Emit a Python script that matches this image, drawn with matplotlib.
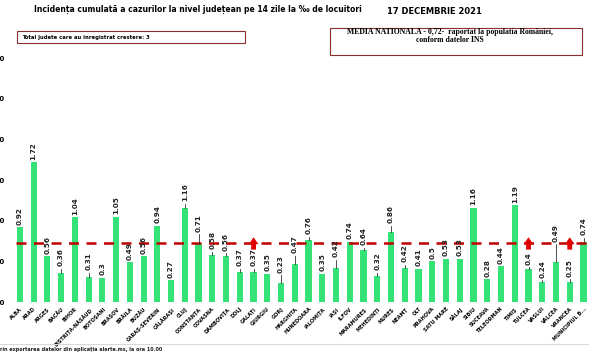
import matplotlib.pyplot as plt

judete = ['ALBA', 'ARAD', 'ARGEȘ', 'BACĂU', 'BIHOR', 'BISTRIȚA-NĂSĂUD', 'BOTOȘANI',
          'BRAȘOV', 'BRĂILA', 'BUZĂU', 'CARAȘ-SEVERIN', 'CĂLĂRAȘI', 'CLUJ', 'CONSTANȚA',
          'COVASNA', 'DÂMBOVIȚA', 'DOLJ', 'GALAȚI', 'GIURGIU', 'GORJ', 'HARGHITA',
          'HUNEDOARA', 'IALOMIȚA', 'IAȘI', 'ILFOV', 'MARAMUREȘ', 'MEHEDINȚI', 'MUREȘ',
          'NEAMȚ', 'OLT', 'PRAHOVA', 'SATU MARE', 'SĂLAJ', 'SIBIU', 'SUCEAVA',
          'TELEORMAN', 'TIMIȘ', 'TULCEA', 'VASLUI', 'VÂLCEA', 'VRANCEA', 'MUNICIPIUL B...']
incidenta = [0.92, 1.72, 0.56, 0.36, 1.04, 0.31, 0.3, 1.05, 0.49, 0.56, 0.94, 0.27,
             1.16, 0.71, 0.58, 0.56, 0.37, 0.37, 0.35, 0.23, 0.47, 0.76, 0.35, 0.42,
             0.74, 0.64, 0.32, 0.86, 0.42, 0.41, 0.5, 0.53, 0.53, 1.16, 0.28, 0.44,
             1.19, 0.4, 0.24, 0.49, 0.25, 0.74]
media_nationala = 0.72
judete_crestere = ['GALAȚI', 'TULCEA', 'VRANCEA']

# length of the small leader line under some value labels (data units)
leader = {'BACĂU': 0.05, 'BISTRIȚA-NĂSĂUD': 0.05, 'CLUJ': 0.05, 'CONSTANȚA': 0.12,
          'COVASNA': 0.04, 'DÂMBOVIȚA': 0.04, 'DOLJ': 0.04, 'GALAȚI': 0.04,
          'GORJ': 0.1, 'HARGHITA': 0.1, 'HUNEDOARA': 0.04, 'IAȘI': 0.1,
          'MARAMUREȘ': 0.03, 'MEHEDINȚI': 0.04, 'MUREȘ': 0.08, 'NEAMȚ': 0.04,
          'TULCEA': 0.03, 'VASLUI': 0.03, 'VÂLCEA': 0.22, 'VRANCEA': 0.03,
          'MUNICIPIUL B...': 0.05}

green = '#34E278'
dark_red = '#C00000'

fig = plt.figure(figsize=(5.89, 3.54), dpi=100)
ax = fig.add_axes([13 / 589, 52 / 354, 576 / 589, 244 / 354])

x = list(range(len(judete)))
ax.bar(x, incidenta, width=0.45, color=green, zorder=2)

ax.hlines(media_nationala, -0.25, len(judete) - 0.5, colors=dark_red,
          linestyles=(0, (4, 3)), lw=1.8, zorder=3)

for i, (name, v) in enumerate(zip(judete, incidenta)):
    off = leader.get(name, 0)
    if off:
        ax.plot([i, i], [v, v + off], color='#333333', lw=0.6, zorder=3)
    ax.text(i, v + off + 0.03, f'{v:g}', rotation=90, ha='center', va='bottom',
            fontsize=5.2, fontweight='bold', color='#222222', zorder=4)

for name in judete_crestere:
    i = judete.index(name)
    ax.annotate('', xy=(i, 0.83), xytext=(i, 0.61),
                arrowprops=dict(arrowstyle='simple,head_width=0.7,head_length=0.5,tail_width=0.35',
                                color='#E00000', lw=0), zorder=5)

ax.set_xlim(-0.5, len(judete) - 0.6)
ax.set_ylim(0, 3.0)
ax.set_yticks([0, 0.5, 1.0, 1.5, 2.0, 2.5, 3.0])
ax.set_yticklabels(['0,00', '0,50', '1,00', '1,50', '2,00', '2,50', '3,00'],
                   fontsize=5, fontweight='bold')
ax.tick_params(axis='y', length=0, pad=6)
ax.set_xticks(x)
ax.set_xticklabels(judete, rotation=45, ha='right', rotation_mode='anchor',
                   fontsize=3.6, fontweight='bold')
ax.tick_params(axis='x', length=0, pad=3)
for s in ax.spines.values():
    s.set_visible(False)

fig.text(198 / 589, 1 - 9 / 354, 'Incidența cumulată a cazurilor la nivel județean pe 14 zile la ‰ de locuitori',
         ha='center', va='center', fontsize=5.5, fontweight='bold')
fig.text(434 / 589, 1 - 12 / 354, '17 DECEMBRIE 2021', ha='center', va='center',
         fontsize=6.0, fontweight='bold')

fig.patches.append(plt.Rectangle((17 / 589, 1 - 43 / 354), 228 / 589, 12 / 354,
                                 transform=fig.transFigure, fill=False,
                                 edgecolor='#8B2E2E', lw=0.8))
fig.text(22 / 589, 1 - 37 / 354, 'Total judete care au inregistrat crestere: 3',
         ha='left', va='center', fontsize=3.8, fontweight='bold')

fig.patches.append(plt.Rectangle((330 / 589, 1 - 55 / 354), 252 / 589, 27 / 354,
                                 transform=fig.transFigure, fill=False,
                                 edgecolor='#8B2E2E', lw=0.8))
fig.text(450 / 589, 1 - 36 / 354,
         'MEDIA NATIONALA - 0,72-  raportat la populatia României,\nconform datelor INS',
         ha='center', va='center', fontsize=5.6, fontweight='bold',
         family='Liberation Serif', linespacing=1.1)

fig.lines.append(plt.Line2D([0, 1], [1 - 344 / 354] * 2, transform=fig.transFigure,
                            color='#D9D9D9', lw=0.8))
fig.text(0, 1 - 350 / 354, 'rin exportarea datelor din aplicația alerte.ms, la ora 10.00',
         ha='left', va='center', fontsize=3.5, fontweight='bold', color='#222222')

fig.savefig('out.png', dpi=100)
